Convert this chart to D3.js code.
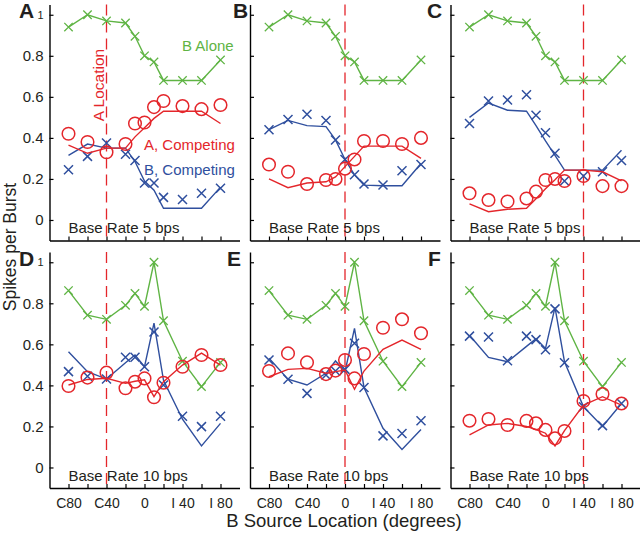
<!DOCTYPE html>
<html><head><meta charset="utf-8">
<script src="https://cdn.jsdelivr.net/npm/d3@7"></script>
<style>
body{margin:0;background:#fff}
svg{display:block;font-family:"Liberation Sans",Arial,Helvetica,sans-serif}
</style>
</head><body>
<svg id="chart" width="640" height="534"></svg>
<script>
// ---------------- data ----------------
const locations = [-80, -60, -40, -20, -10, 0, 10, 20, 40, 60, 80];
const xTickValues = [-80, -60, -40, -20, 0, 20, 40, 60, 80];
const xTickLabels = {"-80": "C80", "-40": "C40", "0": "0", "40": "I 40", "80": "I 80"};
const yTickValues = [0, 0.2, 0.4, 0.6, 0.8, 1];
const panelLetters = ["A", "B", "C", "D", "E", "F"];
const aLocations = [-40, 0, 40, -40, 0, 40];
const baseRateLabels = ["Base Rate 5 bps", "Base Rate 5 bps", "Base Rate 5 bps",
                        "Base Rate 10 bps", "Base Rate 10 bps", "Base Rate 10 bps"];

// B alone (same in each row)
const bAlone5  = [0.94, 1.00, 0.97, 0.96, 0.895, 0.80, 0.77, 0.68, 0.68, 0.68, 0.78];
const bAlone10 = [0.862, 0.742, 0.722, 0.79, 0.848, 0.785, 1.00, 0.715, 0.518, 0.394, 0.512];

// A, competing (circles) and model line
const aCompA = [0.42, 0.38, 0.33, 0.37, 0.47, 0.475, 0.55, 0.58, 0.555, 0.54, 0.56];
const aFitA  = [0.365, 0.325, 0.35, 0.35, 0.405, 0.45, 0.495, 0.53, 0.53, 0.53, 0.47];
const aCompB = [0.27, 0.235, 0.175, 0.195, 0.20, 0.25, 0.295, 0.385, 0.385, 0.37, 0.40];
const aFitB  = [0.20, 0.157, 0.18, 0.186, 0.21, 0.26, 0.31, 0.36, 0.36, 0.36, 0.30];
const aCompC = [0.13, 0.097, 0.09, 0.105, 0.138, 0.195, 0.20, 0.19, 0.214, 0.165, 0.165];
const aFitC  = [0.078, 0.04, 0.052, 0.057, 0.104, 0.152, 0.196, 0.243, 0.243, 0.235, 0.19];
const aCompD = [0.397, 0.438, 0.462, 0.386, 0.418, 0.434, 0.342, 0.413, 0.491, 0.548, 0.499];
const aFitD  = [0.402, 0.429, 0.435, 0.41, 0.42, 0.427, 0.345, 0.418, 0.499, 0.557, 0.499];
const aCompE = [0.47, 0.556, 0.512, 0.455, 0.472, 0.524, 0.434, 0.553, 0.681, 0.722, 0.654];
const aFitE  = [0.442, 0.478, 0.483, 0.459, 0.467, 0.475, 0.381, 0.47, 0.576, 0.621, 0.576];
const aCompF = [0.228, 0.236, 0.207, 0.227, 0.215, 0.183, 0.142, 0.178, 0.324, 0.358, 0.312];
const aFitF  = [0.159, 0.207, 0.215, 0.2, 0.185, 0.167, 0.105, 0.18, 0.304, 0.345, 0.304];

// B, competing (x markers) and model line
const bCompA = [0.245, 0.31, 0.375, 0.32, 0.29, 0.18, 0.18, 0.11, 0.10, 0.13, 0.155];
const bFitA  = [0.315, 0.37, 0.35, 0.35, 0.285, 0.19, 0.145, 0.057, 0.057, 0.057, 0.16];
const bCompB = [0.44, 0.49, 0.515, 0.485, 0.39, 0.295, 0.22, 0.175, 0.17, 0.24, 0.27];
const bFitB  = [0.44, 0.485, 0.46, 0.455, 0.39, 0.295, 0.22, 0.17, 0.167, 0.167, 0.275];
const bCompC = [0.47, 0.58, 0.585, 0.61, 0.51, 0.425, 0.325, 0.19, 0.214, 0.235, 0.29];
const bFitC  = [0.50, 0.57, 0.535, 0.53, 0.46, 0.385, 0.315, 0.243, 0.243, 0.243, 0.34];
const bCompD = [0.467, 0.445, 0.431, 0.537, 0.537, 0.491, 0.66, 0.402, 0.25, 0.199, 0.25];
const bFitD  = [0.564, 0.467, 0.431, 0.51, 0.548, 0.491, 0.703, 0.425, 0.235, 0.105, 0.215];
const bCompE = [0.524, 0.43, 0.361, 0.451, 0.47, 0.478, 0.605, 0.39, 0.154, 0.166, 0.228];
const bFitE  = [0.532, 0.43, 0.402, 0.459, 0.519, 0.467, 0.678, 0.39, 0.191, 0.088, 0.185];
const bCompF = [0.64, 0.636, 0.52, 0.64, 0.623, 0.574, 0.773, 0.51, 0.296, 0.204, 0.312];
const bFitF  = [0.644, 0.536, 0.515, 0.59, 0.628, 0.58, 0.78, 0.515, 0.296, 0.2, 0.312];

// ---------------- layout / style ----------------
const GREEN = "#5fb444", RED = "#e4262b", BLUE = "#2f4f9e", INK = "#231f20";
const colLeft = [49.5, 250, 450.5];
const panelW = 190;
const rowY = [[240.5, 4.5], [488, 252]];
const letterPos = [[19, 18], [233, 18], [427, 18], [19, 266], [227, 266], [428, 266]];

const panels = panelLetters.map((L, i) => ({
  letter: L, row: Math.floor(i / 3), col: i % 3,
  bAlone: i < 3 ? bAlone5 : bAlone10,
  aComp: [aCompA, aCompB, aCompC, aCompD, aCompE, aCompF][i],
  aFit:  [aFitA, aFitB, aFitC, aFitD, aFitE, aFitF][i],
  bComp: [bCompA, bCompB, bCompC, bCompD, bCompE, bCompF][i],
  bFit:  [bFitA, bFitB, bFitC, bFitD, bFitE, bFitF][i],
  aLoc: aLocations[i], base: baseRateLabels[i]
}));

const svg = d3.select("#chart");

function xMarker(g, x, y, h, color, w) {
  g.append("path")
    .attr("d", `M${x - h},${y - h}L${x + h},${y + h}M${x - h},${y + h}L${x + h},${y - h}`)
    .attr("stroke", color).attr("stroke-width", w).attr("fill", "none");
}

panels.forEach((p, i) => {
  const x = d3.scaleLinear().domain([-100, 100]).range([colLeft[p.col], colLeft[p.col] + panelW]);
  const y = d3.scaleLinear().domain([-0.1, 1.05]).range(rowY[p.row]);
  const g = svg.append("g");

  // A location dashed line
  g.append("line")
    .attr("x1", x(p.aLoc)).attr("x2", x(p.aLoc))
    .attr("y1", y(1.05)).attr("y2", y(-0.1))
    .attr("stroke", RED).attr("stroke-width", 1.3)
    .attr("stroke-dasharray", "11,6");

  const line = d3.line().x((d, k) => x(locations[k])).y(d => y(d));

  // B alone
  g.append("path").attr("d", line(p.bAlone)).attr("fill", "none")
    .attr("stroke", GREEN).attr("stroke-width", 1.4);
  p.bAlone.forEach((v, k) => xMarker(g, x(locations[k]), y(v), 4.2, GREEN, 1.3));

  // B competing
  g.append("path").attr("d", line(p.bFit)).attr("fill", "none")
    .attr("stroke", BLUE).attr("stroke-width", 1.4);
  p.bComp.forEach((v, k) => xMarker(g, x(locations[k]), y(v), 4.5, BLUE, 1.5));

  // A competing
  g.append("path").attr("d", line(p.aFit)).attr("fill", "none")
    .attr("stroke", RED).attr("stroke-width", 1.4);
  g.selectAll("circle.a").data(p.aComp).enter().append("circle")
    .attr("cx", (d, k) => x(locations[k])).attr("cy", d => y(d)).attr("r", 6.3)
    .attr("fill", "none").attr("stroke", RED).attr("stroke-width", 1.5);

  // axes
  const yAxis = d3.axisLeft(y).tickValues(yTickValues).tickSizeInner(-4).tickSizeOuter(0).tickPadding(6)
    .tickFormat(d => p.col === 0 ? (d === 0 ? "0" : d === 1 ? "1" : d.toFixed(1)) : "");
  const ya = g.append("g").attr("transform", `translate(${colLeft[p.col]},0)`).call(yAxis);
  ya.selectAll("text").attr("font-size", d => d === 1 ? 11 : 15).attr("fill", INK)
    .attr("font-family", "Liberation Sans, Arial, sans-serif");
  ya.select(".domain").attr("stroke", "#000").attr("stroke-width", 1.4);
  ya.selectAll(".tick line").attr("stroke", "#000").attr("stroke-width", 1.2);

  const xAxis = d3.axisBottom(x).tickValues(xTickValues).tickSizeInner(-4).tickSizeOuter(0).tickPadding(10)
    .tickFormat(d => p.row === 1 ? (xTickLabels[String(d)] || "") : "");
  const xa = g.append("g").attr("transform", `translate(0,${rowY[p.row][0]})`).call(xAxis);
  xa.selectAll("text").attr("font-size", 14).attr("fill", INK)
    .attr("font-family", "Liberation Sans, Arial, sans-serif");
  xa.select(".domain").attr("stroke", "#000").attr("stroke-width", 1.4);
  xa.selectAll(".tick line").attr("stroke", "#000").attr("stroke-width", 1.2);

  // base rate text
  g.append("text").attr("x", x(-80)).attr("y", rowY[p.row][0] - 7.5)
    .attr("font-size", 15).attr("fill", INK).text(p.base);

  // panel letter
  svg.append("text").attr("x", letterPos[i][0]).attr("y", letterPos[i][1])
    .attr("font-size", 21).attr("font-weight", "bold").attr("fill", INK).text(p.letter);

  if (i === 0) {
    g.append("text").attr("x", 182).attr("y", 51).attr("font-size", 15).attr("fill", GREEN).text("B Alone");
    g.append("text").attr("x", 144).attr("y", 150).attr("font-size", 15).attr("fill", RED).text("A, Competing");
    g.append("text").attr("x", 144).attr("y", 175).attr("font-size", 15).attr("fill", BLUE).text("B, Competing");
    g.append("text").attr("transform", `translate(104,85) rotate(-90)`).attr("text-anchor", "middle")
      .attr("font-size", 15.5).attr("fill", RED).text("A Location");
  }
});

// axis titles
svg.append("text").attr("x", 344).attr("y", 527).attr("text-anchor", "middle")
  .attr("font-size", 18.5).attr("fill", INK).text("B Source Location (degrees)");
svg.append("text").attr("transform", "translate(16,247) rotate(-90)").attr("text-anchor", "middle")
  .attr("font-size", 17.5).attr("fill", INK).text("Spikes per Burst");
</script>
</body></html>
